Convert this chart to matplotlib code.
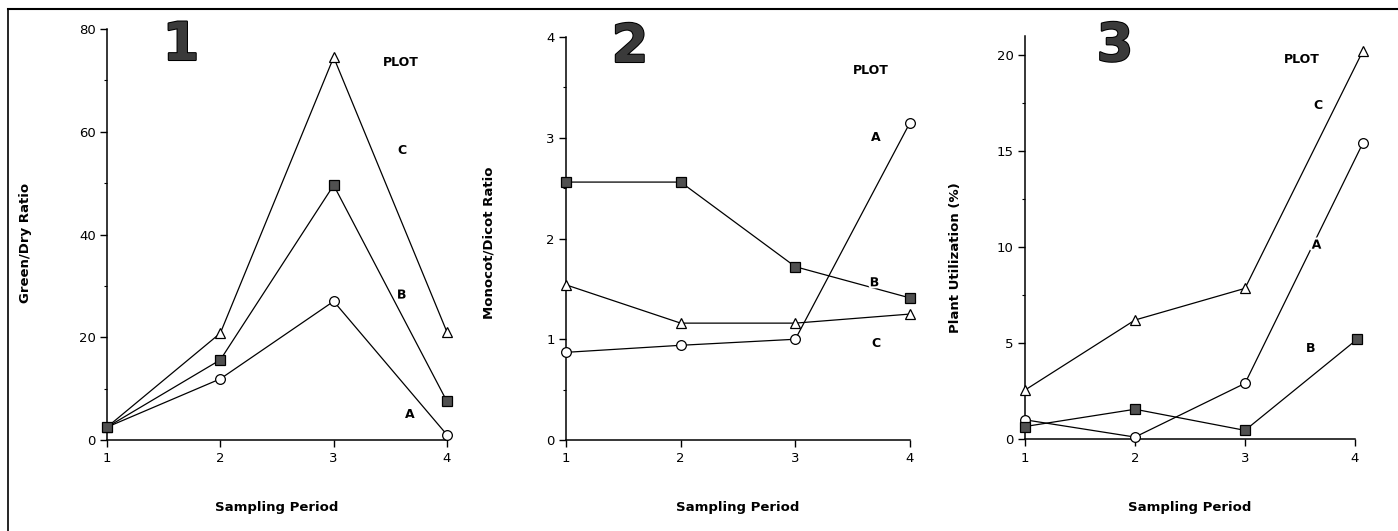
import matplotlib
matplotlib.use("Agg")
import matplotlib.pyplot as plt
from matplotlib.lines import Line2D
import matplotlib.patheffects as pe

periods = [1, 2, 3, 4]
x_ticks = [1, 2, 3, 4]

# Panel 1: Green/Dry Ratio
p1_A = [2.5, 11.9, 27.0, 1.0]
p1_B = [2.5, 15.6, 49.6, 7.5]
p1_C = [2.5, 20.8, 74.5, 21.0]

# Panel 2: Monocot/Dicot Ratio
p2_A = [0.87, 0.94, 1.00, 3.15]
p2_B = [2.56, 2.56, 1.72, 1.41]
p2_C = [1.54, 1.16, 1.16, 1.25]

# Panel 3: Plant Utilization (%)
p3_x_AC = [1, 2, 3, 4.07]
p3_x_B = [1, 2, 3, 4.02]
p3_A = [1.0, 0.1, 2.9, 15.4]
p3_B = [0.65, 1.55, 0.45, 5.2]
p3_C = [2.55, 6.2, 7.85, 20.2]

ylabels = ["Green/Dry Ratio", "Monocot/Dicot Ratio", "Plant Utilization (%)"]
xlabel = "Sampling Period"
panel_nums = ["1", "2", "3"]

W, H = 1398, 531
fig = plt.figure(figsize=(W / 100, H / 100), dpi=100)
fig.patch.set_facecolor("white")

def fr(px, py):
    return px / W, 1 - py / H

rects = [
    (107, 447, 440, 29),
    (566, 910, 440, 37),
    (1025, 1355, 439, 36),
]
ylims = [(0, 80), (0, 4), (0, 21)]
yticks = [[0, 20, 40, 60, 80], [0, 1, 2, 3, 4], [0, 5, 10, 15, 20]]
yminor = [[10, 30, 50, 70], [0.5, 1.5, 2.5, 3.5], [2.5, 7.5, 12.5, 17.5]]
ylab_coords = [(-0.22, 0.48), (-0.206, 0.49), (-0.191, 0.45)]
xlab_y = [-0.148, -0.151, -0.154]

axes = []
for i, (l, r, b, t) in enumerate(rects):
    ax = fig.add_axes([l / W, 1 - b / H, (r - l) / W, (b - t) / H])
    ax.set_xlim(1, 4)
    ax.set_ylim(*ylims[i])
    ax.spines["top"].set_visible(False)
    ax.spines["right"].set_visible(False)
    for s in ("left", "bottom"):
        ax.spines[s].set_linewidth(1.1)
    ax.set_xticks(x_ticks)
    ax.set_yticks(yticks[i])
    ax.set_yticks(yminor[i], minor=True)
    ax.tick_params(axis="both", which="major", direction="out", length=5,
                   width=1, labelsize=9.5, pad=3)
    ax.tick_params(axis="y", which="minor", direction="out", length=2, width=0.8)
    ax.tick_params(axis="x", which="major", pad=4)
    ax.set_facecolor("none")
    ax.set_ylabel(ylabels[i], fontsize=9.5, fontweight="bold")
    ax.yaxis.set_label_coords(*ylab_coords[i])
    ax.set_xlabel(xlabel, fontsize=9.5, fontweight="bold")
    ax.xaxis.set_label_coords(0.5, xlab_y[i])
    axes.append(ax)

ln = dict(color="black", lw=0.9, clip_on=False, zorder=3)
mA = dict(marker="o", ms=7, mfc="white", mec="black", mew=0.9)
mB = dict(marker="s", ms=6.5, mfc="#505050", mec="black", mew=0.9)
mC = dict(marker="^", ms=7, mfc="white", mec="black", mew=0.9)

ax = axes[0]
ax.plot(periods, p1_C, **ln, **mC)
ax.plot(periods, p1_A, **ln, **mA)
ax.plot(periods, p1_B, **ln, **mB)

ax = axes[1]
ax.plot(periods, p2_C, **ln, **mC)
ax.plot(periods, p2_A, **ln, **mA)
ax.plot(periods, p2_B, **ln, **mB)

ax = axes[2]
ax.plot(p3_x_AC, p3_C, **ln, **mC)
ax.plot(p3_x_AC, p3_A, **ln, **mA)
ax.plot(p3_x_B, p3_B, **ln, **mB)

lab = dict(fontsize=9, fontweight="bold", ha="center", va="center")
wpad = [pe.withStroke(linewidth=3, foreground="white")]
axes[0].text(3.59, 73.5, "PLOT", **lab)
axes[0].text(3.60, 56.4, "C", **lab)
axes[0].text(3.60, 28.2, "B", path_effects=wpad, zorder=4, **lab)
axes[0].text(3.67, 4.9, "A", **lab)
axes[1].text(3.66, 3.67, "PLOT", **lab)
axes[1].text(3.70, 3.00, "A", **lab)
axes[1].text(3.69, 1.56, "B", path_effects=wpad, zorder=4, **lab)
axes[1].text(3.70, 0.96, "C", **lab)
axes[2].text(3.52, 19.8, "PLOT", **lab)
axes[2].text(3.66, 17.4, "C", **lab)
axes[2].text(3.65, 10.1, "A", path_effects=wpad, zorder=4, **lab)
axes[2].text(3.60, 4.7, "B", **lab)

# big panel numbers
num_pos = [(181, 45), (630, 47), (1115, 46)]
for s, (px, py) in zip(panel_nums, num_pos):
    x, y = fr(px, py)
    fig.text(x, y, s, fontsize=38, fontweight="bold", family="DejaVu Sans",
             ha="center", va="center", color="#3a3a3a",
             path_effects=[pe.withStroke(linewidth=1.5, foreground="black")])

fig.add_artist(Line2D([8 / W, 1.0], [1 - 9 / H, 1 - 9 / H], color="black", lw=1.5))
fig.add_artist(Line2D([8 / W, 8 / W], [0.0, 1 - 9 / H], color="black", lw=1.2))

fig.savefig("out.png", dpi=100, facecolor="white")
